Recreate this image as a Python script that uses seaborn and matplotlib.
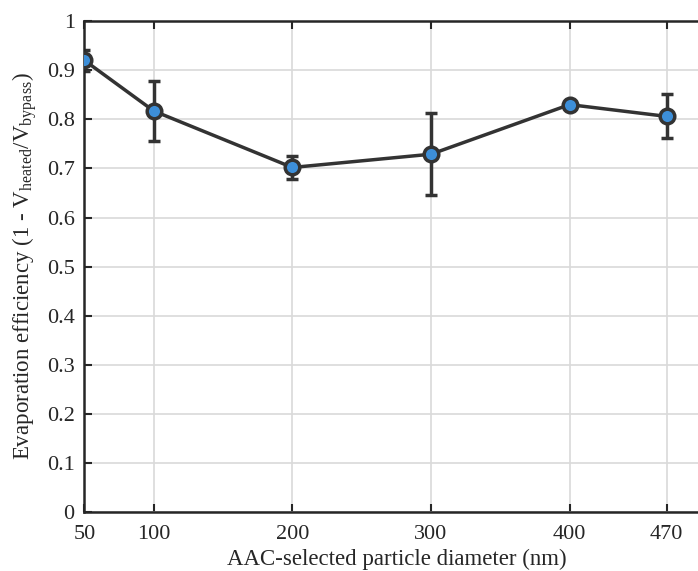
import seaborn as sns
import matplotlib.pyplot as plt
import pandas as pd

diameter = [50, 100, 200, 300, 400, 470]
efficiency = [0.920, 0.817, 0.702, 0.729, 0.830, 0.806]
err = [0.022, 0.062, 0.023, 0.083, 0.003, 0.045]
xticks = [50, 100, 200, 300, 400, 470]
yticks = [0, 0.1, 0.2, 0.3, 0.4, 0.5, 0.6, 0.7, 0.8, 0.9, 1]
ytick_labels = ["0", "0.1", "0.2", "0.3", "0.4", "0.5", "0.6", "0.7", "0.8", "0.9", "1"]

sns.set_style("ticks")
plt.rcParams['font.family'] = ['Liberation Serif', 'DejaVu Serif']
plt.rcParams['mathtext.fontset'] = 'custom'
plt.rcParams['mathtext.rm'] = 'Liberation Serif'
plt.rcParams['mathtext.it'] = 'Liberation Serif:italic'

df = pd.DataFrame({"d": diameter, "eff": efficiency, "err": err})

fig = plt.figure(figsize=(6.98, 5.71), dpi=100)
ax = fig.add_axes([0.121, 0.103, 0.8936, 0.86])

ax.grid(True, color='#d9d9d9', lw=1.2)
ax.set_axisbelow(True)

ax.errorbar(df["d"], df["eff"], yerr=df["err"], fmt='none', ecolor='#333333',
            elinewidth=2.5, capsize=4.5, capthick=2.5, zorder=2)
sns.lineplot(x="d", y="eff", data=df, color='#333333', lw=2.5, marker='o',
             markersize=10.5, markerfacecolor='#3d8fd9', markeredgecolor='#333333',
             markeredgewidth=2.5, ax=ax, zorder=3)

ax.set_xlim(50, 500)
ax.set_ylim(0, 1)
ax.set_xticks(xticks)
ax.set_yticks(yticks)
ax.set_yticklabels(ytick_labels)
ax.tick_params(direction='in', length=6, width=1.5, labelsize=16, top=True, right=True,
               colors='#262626')
ax.tick_params(axis='x', pad=9)
ax.tick_params(axis='y', pad=7)
for s in ax.spines.values():
    s.set_linewidth(1.8)
    s.set_color('#262626')

ax.set_xlabel("AAC-selected particle diameter (nm)", fontsize=16.5, color='#262626', labelpad=4)
ax.set_ylabel(r"Evaporation efficiency (1 - V$_{\mathrm{heated}}$/V$_{\mathrm{bypass}}$)",
              fontsize=16.5, color='#262626', labelpad=6)

fig.savefig("out.png", dpi=100)
